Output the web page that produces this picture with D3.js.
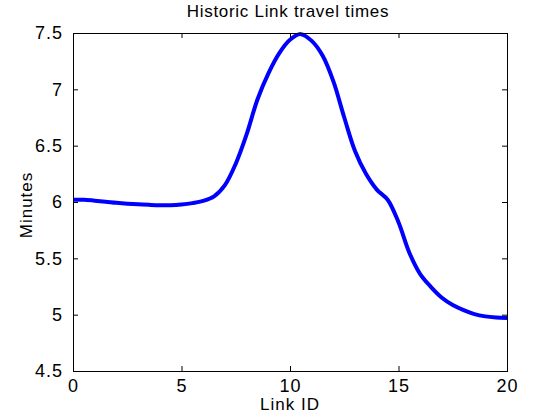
<!DOCTYPE html>
<html>
<head>
<meta charset="utf-8">
<script src="https://cdn.jsdelivr.net/npm/d3@7/dist/d3.min.js"></script>
<style>
  html, body { margin: 0; padding: 0; background: #fff; }
  svg { display: block; }
  text { font-family: "Liberation Sans", Arial, Helvetica, sans-serif; fill: #000; }
</style>
</head>
<body>
<script>
const linkIds = [0,0.5,1,1.5,2,2.5,3,3.5,4,4.5,5,5.5,6,6.5,7,7.5,8,8.5,9,9.5,10,10.5,11,11.5,12,12.5,13,13.5,14,14.5,15,15.5,16,16.5,17,17.5,18,18.5,19,19.5,20];
const minutes = [6.02,6.02,6.012,6.003,5.993,5.985,5.979,5.975,5.972,5.972,5.978,5.99,6.01,6.05,6.15,6.34,6.60,6.91,7.14,7.32,7.44,7.49,7.43,7.30,7.07,6.75,6.45,6.25,6.11,6.02,5.82,5.55,5.36,5.245,5.15,5.085,5.04,5.005,4.985,4.975,4.97];
const xTicks = [0,5,10,15,20];
const yTicks = [4.5,5,5.5,6,6.5,7,7.5];
const titleText = "Historic Link travel times";
const xLabel = "Link ID";
const yLabel = "Minutes";

const W = 560, H = 420;
const m = {left: 73, right: 53, top: 33, bottom: 49};
const svg = d3.select("body").append("svg").attr("width", W).attr("height", H);

const x = d3.scaleLinear().domain([0, 20]).range([m.left, W - m.right]);
const y = d3.scaleLinear().domain([4.5, 7.5]).range([H - m.bottom, m.top]);

const data = linkIds.map((d, i) => ({x: d, y: minutes[i]}));

// curve
svg.append("path")
  .datum(data)
  .attr("fill", "none")
  .attr("stroke", "#0000ff")
  .attr("stroke-width", 4)
  .attr("stroke-linejoin", "round")
  .attr("d", d3.line().x(d => x(d.x)).y(d => y(d.y)).curve(d3.curveCatmullRom.alpha(0.5)));

const tickLen = 5;
const fontSize = "18px";

function styleAxis(g) {
  g.select(".domain").remove();
  g.selectAll(".tick line").attr("stroke", "#000").attr("stroke-width", 1);
}

// bottom axis
svg.append("g")
  .attr("transform", `translate(0,${H - m.bottom})`)
  .call(d3.axisBottom(x).tickValues(xTicks).tickSizeInner(-tickLen).tickSizeOuter(0).tickPadding(8).tickFormat(d3.format("d")))
  .call(styleAxis)
  .call(g => g.selectAll(".tick text").attr("font-size", fontSize).attr("font-family", "Liberation Sans, Arial, sans-serif").attr("letter-spacing", "1px"));

// top axis (ticks only)
svg.append("g")
  .attr("transform", `translate(0,${m.top})`)
  .call(d3.axisTop(x).tickValues(xTicks).tickSizeInner(-tickLen).tickSizeOuter(0).tickFormat(""))
  .call(styleAxis);

// left axis
svg.append("g")
  .attr("transform", `translate(${m.left},0)`)
  .call(d3.axisLeft(y).tickValues(yTicks).tickSizeInner(-tickLen).tickSizeOuter(0).tickPadding(10).tickFormat(d => String(d)))
  .call(styleAxis)
  .call(g => g.selectAll(".tick text").attr("font-size", fontSize).attr("font-family", "Liberation Sans, Arial, sans-serif").attr("letter-spacing", "1px"));

// right axis (ticks only)
svg.append("g")
  .attr("transform", `translate(${W - m.right},0)`)
  .call(d3.axisRight(y).tickValues(yTicks).tickSizeInner(-tickLen).tickSizeOuter(0).tickFormat(""))
  .call(styleAxis);

// box
svg.append("rect")
  .attr("x", m.left).attr("y", m.top)
  .attr("width", W - m.left - m.right).attr("height", H - m.top - m.bottom)
  .attr("fill", "none").attr("stroke", "#000").attr("stroke-width", 1)
  .attr("shape-rendering", "crispEdges");

// title
svg.append("text")
  .attr("x", 288).attr("y", 17)
  .attr("text-anchor", "middle")
  .attr("font-size", "17px")
  .attr("letter-spacing", "0.7px")
  .text(titleText);

// x label
svg.append("text")
  .attr("x", (m.left + W - m.right) / 2).attr("y", 410)
  .attr("text-anchor", "middle")
  .attr("font-size", "17px")
  .attr("letter-spacing", "1px")
  .text(xLabel);

// y label
svg.append("text")
  .attr("transform", `translate(32,${(m.top + H - m.bottom) / 2 + 3}) rotate(-90)`)
  .attr("text-anchor", "middle")
  .attr("font-size", "17px")
  .attr("letter-spacing", "1px")
  .text(yLabel);
</script>
</body>
</html>
